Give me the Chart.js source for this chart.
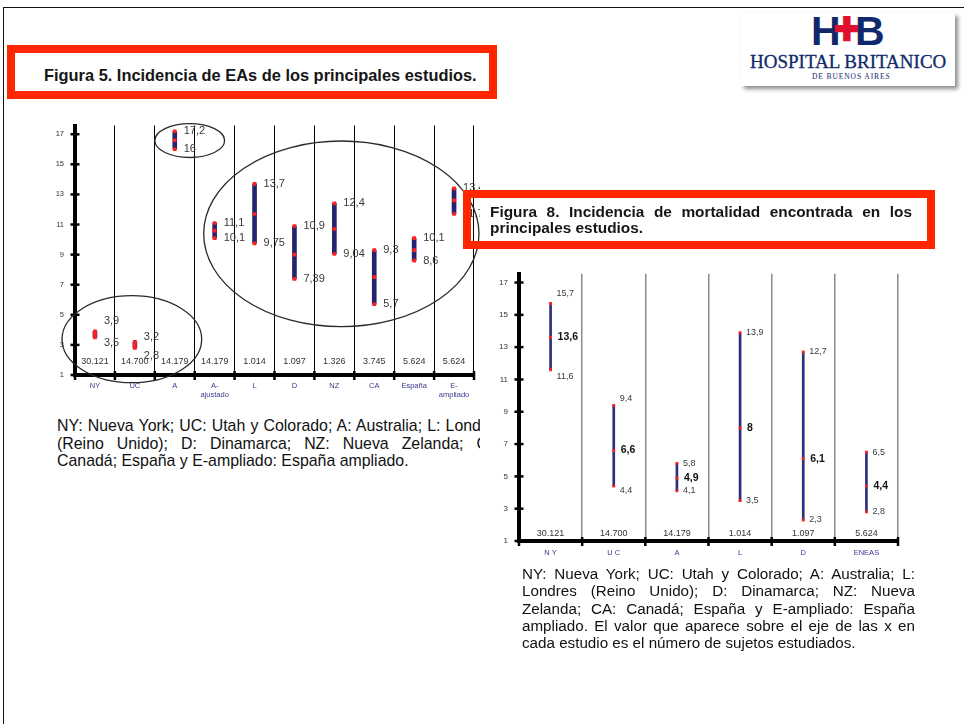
<!DOCTYPE html>
<html lang="es">
<head>
<meta charset="utf-8">
<title>Figuras 5 y 8</title>
<script src="https://cdn.jsdelivr.net/npm/chart.js@4.4.0/dist/chart.umd.min.js"></script>
<style>
  body { margin: 0; background: #fff; font-family: Arial, "Liberation Sans", sans-serif; }
  #page { position: relative; width: 964px; height: 724px; overflow: hidden; background: #fff; }
  #frame { position: absolute; left: 3px; top: 7px; width: 970px; height: 740px;
           border-top: 1.5px solid #111; border-left: 1.5px solid #111; }
  .redbox { position: absolute; box-sizing: border-box; border: 8px solid #ff2600; }
  #box5 { left: 7px; top: 45px; width: 490px; height: 54px; }
  #box8 { left: 463px; top: 190px; width: 472px; height: 59px; }
  .title { position: absolute; font-weight: bold; line-height: 16px; color: #161616; }
  #t5 { left: 44px; top: 66px; white-space: nowrap; font-size: 16.4px; line-height: 18px; }
  #t8 { left: 490px; top: 204px; width: 422px; font-size: 15.4px; }
  .just { display: block; text-align: justify; text-align-last: justify; white-space: nowrap; }
  .last { display: block; text-align: left; white-space: nowrap; }
  .note { position: absolute; color: #111; }
  #note5 { left: 57px; top: 417px; width: 423px; overflow: hidden; font-size: 15.9px; line-height: 17.5px; }
  #note5 .inner { width: 446px; }
  #note8 { left: 522px; top: 565px; width: 393px; font-size: 15.2px; line-height: 17.3px; }
  .chartbox { position: absolute; }
  #c5 { left: 40px; top: 110px; }
  #c8 { left: 490px; top: 258px; }
  #logo { position: absolute; left: 741px; top: 13px; width: 214px; height: 73px; background: #fff;
          box-shadow: 3px 3px 4px rgba(0,0,0,0.45); }
  #logo .hb { position: absolute; top: -5px; font: bold 41px "Liberation Sans", Arial, sans-serif; color: #10296b; }
  #logo .plus { position: absolute; top: -9px; left: 93px; font: bold 44px "Liberation Sans", Arial, sans-serif;
                color: #e0102e; -webkit-text-stroke: 2.5px #e0102e; }
  #logo .name { position: absolute; left: 9px; top: 39px; font: 19px "Liberation Serif", "Times New Roman", serif;
                color: #10296b; white-space: nowrap; line-height: 19px; -webkit-text-stroke: 0.3px #10296b; }
  #logo .city { position: absolute; left: 71px; top: 59px; font: 7.5px "Liberation Serif", "Times New Roman", serif;
                letter-spacing: 0.9px; color: #10296b; white-space: nowrap; line-height: 9px; }
</style>
</head>
<body>
<div id="page">
  <div id="frame"></div>

  <div class="chartbox" id="c5"><canvas id="chart5" width="440" height="300"></canvas></div>
  <div class="chartbox" id="c8"><canvas id="chart8" width="420" height="310"></canvas></div>

  <div class="redbox" id="box5"></div>
  <div class="title" id="t5">Figura 5. Incidencia de EAs de los principales estudios.</div>

  <div class="redbox" id="box8"></div>
  <div class="title" id="t8">
    <span class="just">Figura 8. Incidencia de mortalidad encontrada en los</span>
    <span class="last">principales estudios.</span>
  </div>

  <div class="note" id="note5"><div class="inner">
    <span class="just">NY: Nueva York; UC: Utah y Colorado; A: Australia; L: Londres</span>
    <span class="just">(Reino Unido); D: Dinamarca; NZ: Nueva Zelanda; CA:</span>
    <span class="last">Canadá; España y E-ampliado: España ampliado.</span>
  </div></div>

  <div class="note" id="note8">
    <span class="just">NY: Nueva York; UC: Utah y Colorado; A: Australia; L:</span>
    <span class="just">Londres (Reino Unido); D: Dinamarca; NZ: Nueva</span>
    <span class="just">Zelanda; CA: Canadá; España y E-ampliado: España</span>
    <span class="just">ampliado. El valor que aparece sobre el eje de las x en</span>
    <span class="last">cada estudio es el número de sujetos estudiados.</span>
  </div>

  <div id="logo">
    <span class="hb" style="left:70px">H</span>
    <span class="plus">+</span>
    <span class="hb" style="left:114px">B</span>
    <div class="name">HOSPITAL BRITANICO</div>
    <div class="city">DE BUENOS AIRES</div>
  </div>
</div>

<script>
// Figura 5: incidencia de EAs
var eaStudies = ['NY', 'UC', 'A', ['A-', 'ajustado'], 'L', 'D', 'NZ', 'CA', 'España', ['E-', 'ampliado']];
var eaSubjects = ['30.121', '14.700', '14.179', '14.179', '1.014', '1.097', '1.326', '3.745', '5.624', '5.624'];
var eaLow = [3.5, 2.8, 16, 10.1, 9.75, 7.39, 9.04, 5.7, 8.6, 11.7];
var eaMid = [3.7, 3.0, 16.6, 10.6, 11.7, 9.0, 10.7, 7.5, 9.3, 12.6];
var eaHigh = [3.9, 3.2, 17.2, 11.1, 13.7, 10.9, 12.4, 9.3, 10.1, 13.4];

// Figura 8: incidencia de mortalidad
var mortStudies = ['N Y', 'U C', 'A', 'L', 'D', 'ENEAS'];
var mortSubjects = ['30.121', '14.700', '14.179', '1.014', '1.097', '5.624'];
var mortLow = [11.6, 4.4, 4.1, 3.5, 2.3, 2.8];
var mortMid = [13.6, 6.6, 4.9, 8, 6.1, 4.4];
var mortHigh = [15.7, 9.4, 5.8, 13.9, 12.7, 6.5];

var yTicks = [1, 3, 5, 7, 9, 11, 13, 15, 17];

var RED = '#ff1f1f';
var FONT = 'Arial, "Liberation Sans", sans-serif';
Chart.defaults.font.family = FONT;

function fmt(v) { return String(v).replace('.', ','); }

function line(ctx, x1, y1, x2, y2) {
  ctx.beginPath(); ctx.moveTo(x1, y1); ctx.lineTo(x2, y2); ctx.stroke();
}

// draws axis tick marks, sample sizes, value labels and ellipses
function makeMarks(cfg) {
  return {
    id: 'marks',
    afterDraw: function (chart) {
      var ctx = chart.ctx, a = chart.chartArea, x = chart.scales.x, y = chart.scales.y;
      var n = cfg.low.length;
      var step = x.getPixelForValue(1) - x.getPixelForValue(0);
      ctx.save();
      ctx.strokeStyle = '#000';
      ctx.lineWidth = 2.5;
      yTicks.forEach(function (v) {
        var py = y.getPixelForValue(v);
        line(ctx, a.left - 4.5, py, a.left + 4.5, py);
      });
      for (var i = 0; i <= n; i++) {
        var px = x.getPixelForValue(0) + (i - 0.5) * step;
        line(ctx, px, a.bottom - 4, px, a.bottom + 5);
      }

      ctx.fillStyle = '#333';
      ctx.font = '9px ' + FONT;
      ctx.textAlign = 'center';
      ctx.textBaseline = 'middle';
      cfg.subjects.forEach(function (s, i) {
        ctx.fillText(s, x.getPixelForValue(i), a.bottom - cfg.subjOffset);
      });

      ctx.textAlign = 'left';
      for (var j = 0; j < n; j++) {
        var bx = x.getPixelForValue(j) + cfg.dx;
        ctx.fillStyle = '#3a3a3a';
        ctx.font = cfg.labelFont;
        ctx.fillText(fmt(cfg.high[j]), bx, y.getPixelForValue(cfg.high[j]) + (cfg.hiNudge[j] || 0));
        ctx.fillText(fmt(cfg.low[j]), bx, y.getPixelForValue(cfg.low[j]) + (cfg.loNudge[j] || 0));
        if (cfg.showMid) {
          ctx.fillStyle = '#111';
          ctx.font = 'bold 10.5px ' + FONT;
          ctx.fillText(fmt(cfg.mid[j]), bx + 1, y.getPixelForValue(cfg.mid[j]));
        }
      }

      ctx.strokeStyle = '#2a2a2a';
      ctx.lineWidth = 1.3;
      (cfg.ellipses || []).forEach(function (e) {
        var cx = x.getPixelForValue(0) + e.cx * step;
        var cy = y.getPixelForValue(e.cy);
        var ry = Math.abs(y.getPixelForValue(e.cy + e.ry) - cy);
        ctx.beginPath();
        ctx.ellipse(cx, cy, e.rx * step, ry, 0, 0, Math.PI * 2);
        ctx.stroke();
      });
      ctx.restore();
    }
  };
}

function buildChart(id, c) {
  var ranges = c.low.map(function (v, i) { return [v, c.high[i]]; });
  var pts = function (data) {
    return { type: 'line', data: data, showLine: false, pointStyle: 'rect', pointRadius: c.capSize,
             pointBackgroundColor: RED, pointBorderWidth: 0, order: 1 };
  };
  return new Chart(document.getElementById(id).getContext('2d'), {
    type: 'bar',
    data: {
      labels: c.labels,
      datasets: [
        pts(c.high), pts(c.mid), pts(c.low),
        { type: 'bar', data: ranges, backgroundColor: c.barColor, barThickness: c.barWidth, order: 2 }
      ]
    },
    options: {
      responsive: false,
      animation: false,
      events: [],
      layout: { padding: { top: 7, right: c.padRight, left: 0, bottom: 0 } },
      plugins: { legend: { display: false }, tooltip: { enabled: false } },
      scales: {
        x: {
          grid: { color: c.sepColor, lineWidth: c.sepWidth, drawTicks: false, offset: true },
          border: { color: '#000', width: 4 },
          ticks: { color: '#3a3a90', font: { size: 7.5 }, padding: c.xPad, autoSkip: false, maxRotation: 0 },
          afterFit: function (s) { s.height = c.xHeight; }
        },
        y: {
          min: 1, max: c.yMax,
          grid: { display: false, drawTicks: false },
          border: { color: '#000', width: 4 },
          ticks: { color: '#333', font: { size: c.yFont }, padding: 11 },
          afterBuildTicks: function (s) { s.ticks = yTicks.map(function (v) { return { value: v }; }); },
          afterFit: function (s) { s.width = c.yWidth; }
        }
      }
    },
    plugins: [makeMarks(c)]
  });
}

window.onload = function () {
  buildChart('chart5', {
    labels: eaStudies, subjects: eaSubjects, low: eaLow, mid: eaMid, high: eaHigh,
    yMax: 17.58, yWidth: 35, xHeight: 35, xPad: 6, padRight: 6, yFont: 7.5,
    barColor: '#232370', barWidth: 4, capSize: 2.6, sepColor: '#000', sepWidth: 1,
    subjOffset: 13, dx: 9, labelFont: '11px ' + FONT, showMid: false,
    hiNudge: [-10, -5], loNudge: [6, 8],
    ellipses: [
      { cx: 2.375, cy: 16.58, rx: 0.875, ry: 1.125 },
      { cx: 6.175, cy: 10.38, rx: 3.45, ry: 6.17 },
      { cx: 0.925, cy: 3.38, rx: 1.75, ry: 2.89 }
    ]
  });
  buildChart('chart8', {
    labels: mortStudies, subjects: mortSubjects, low: mortLow, mid: mortMid, high: mortHigh,
    yMax: 17.54, yWidth: 29, xHeight: 27, xPad: 7, padRight: 12, yFont: 8,
    barColor: '#2e2e80', barWidth: 2, capSize: 2, sepColor: '#8a8a8a', sepWidth: 1.5,
    subjOffset: 7, dx: 6, labelFont: '9px ' + FONT, showMid: true,
    hiNudge: [-10, -7], loNudge: [7, 4],
    ellipses: []
  });
};
</script>
</body>
</html>
